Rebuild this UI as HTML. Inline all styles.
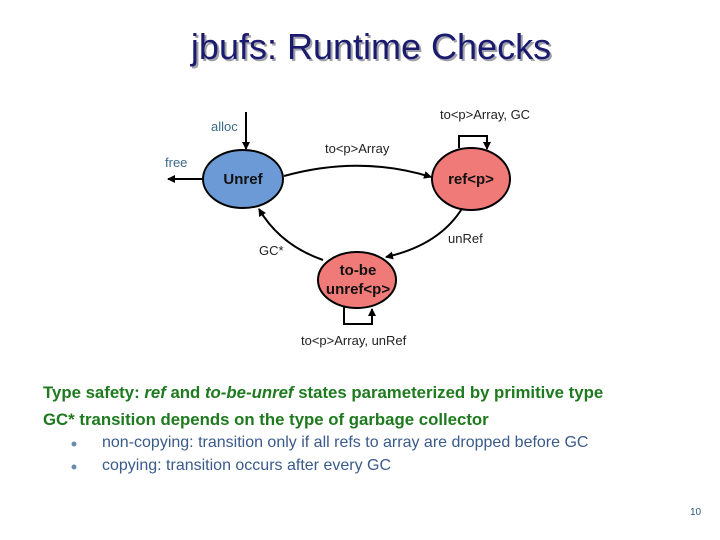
<!DOCTYPE html>
<html><head><meta charset="utf-8"><style>
body{margin:0;width:720px;height:540px;background:#fff;overflow:hidden;position:relative;font-family:"Liberation Sans",Arial,sans-serif}
.t{position:absolute;white-space:nowrap}
</style></head><body>
<div class="t" style="left:0;width:742px;text-align:center;top:26px;font-size:36px;color:#1a1a6e;text-shadow:2px 2px 0 #a0a0a8">jbufs: Runtime Checks</div>
<svg width="720" height="540" style="position:absolute;left:0;top:0">
<defs><marker id="a" markerWidth="8" markerHeight="8" refX="7" refY="4" orient="auto" markerUnits="userSpaceOnUse"><path d="M0,0 L8,4 L0,8z" fill="#000"/></marker></defs>
<g fill="none" stroke="#000" stroke-width="2">
<path d="M246,112 L246,149" marker-end="url(#a)"/>
<path d="M203,179 L168,179" marker-end="url(#a)"/>
<path d="M284,176 Q360,155 431,177" marker-end="url(#a)"/>
<path d="M459,148 L459,136 L487,136 L487,149" marker-end="url(#a)"/>
<path d="M463,207 Q440,245 386,257" marker-end="url(#a)"/>
<path d="M323,260 Q280,245 259,209" marker-end="url(#a)"/>
<path d="M344,306 L344,324 L372,324 L372,309" marker-end="url(#a)"/>
</g>
<g stroke="#000" stroke-width="2">
<ellipse cx="243" cy="179" rx="40" ry="29" fill="#6b9ad6"/>
<ellipse cx="471" cy="179" rx="39" ry="31" fill="#f07a78"/>
<ellipse cx="357" cy="280" rx="39" ry="28" fill="#f07a78"/>
</g>
<g font-family="Liberation Sans,Arial,sans-serif" font-weight="bold" font-size="15" text-anchor="middle" fill="#111">
<text x="243" y="184">Unref</text>
<text x="471" y="184">ref&lt;p&gt;</text>
<text x="358" y="275">to-be</text>
<text x="358" y="294">unref&lt;p&gt;</text>
</g>
<g font-family="Liberation Sans,Arial,sans-serif" font-size="13" fill="#222">
<text x="211" y="131" fill="#3a6a8a">alloc</text>
<text x="165" y="167" fill="#3a6a8a">free</text>
<text x="325" y="153">to&lt;p&gt;Array</text>
<text x="440" y="119">to&lt;p&gt;Array, GC</text>
<text x="448" y="243">unRef</text>
<text x="259" y="255">GC*</text>
<text x="301" y="345">to&lt;p&gt;Array, unRef</text>
</g>
<circle cx="74" cy="444" r="2.5" fill="#6a8ab0"/>
<circle cx="74" cy="467" r="2.5" fill="#6a8ab0"/>
</svg>
<div class="t" style="left:43px;top:383px;font-size:16.8px;font-weight:bold;color:#1e7a1e">Type safety: <i>ref</i> and <i>to-be-unref</i> states parameterized by primitive type</div>
<div class="t" style="left:43px;top:410px;font-size:16.8px;font-weight:bold;color:#1e7a1e">GC* transition depends on the type of garbage collector</div>
<div class="t" style="left:102px;top:434px;font-size:16px;color:#3a5a8a">non-copying: transition only if all refs to array are dropped before GC</div>
<div class="t" style="left:102px;top:457px;font-size:16px;color:#3a5a8a">copying: transition occurs after every GC</div>
<div class="t" style="left:690px;top:507px;font-size:10px;color:#2a5a7a">10</div>
</body></html>
